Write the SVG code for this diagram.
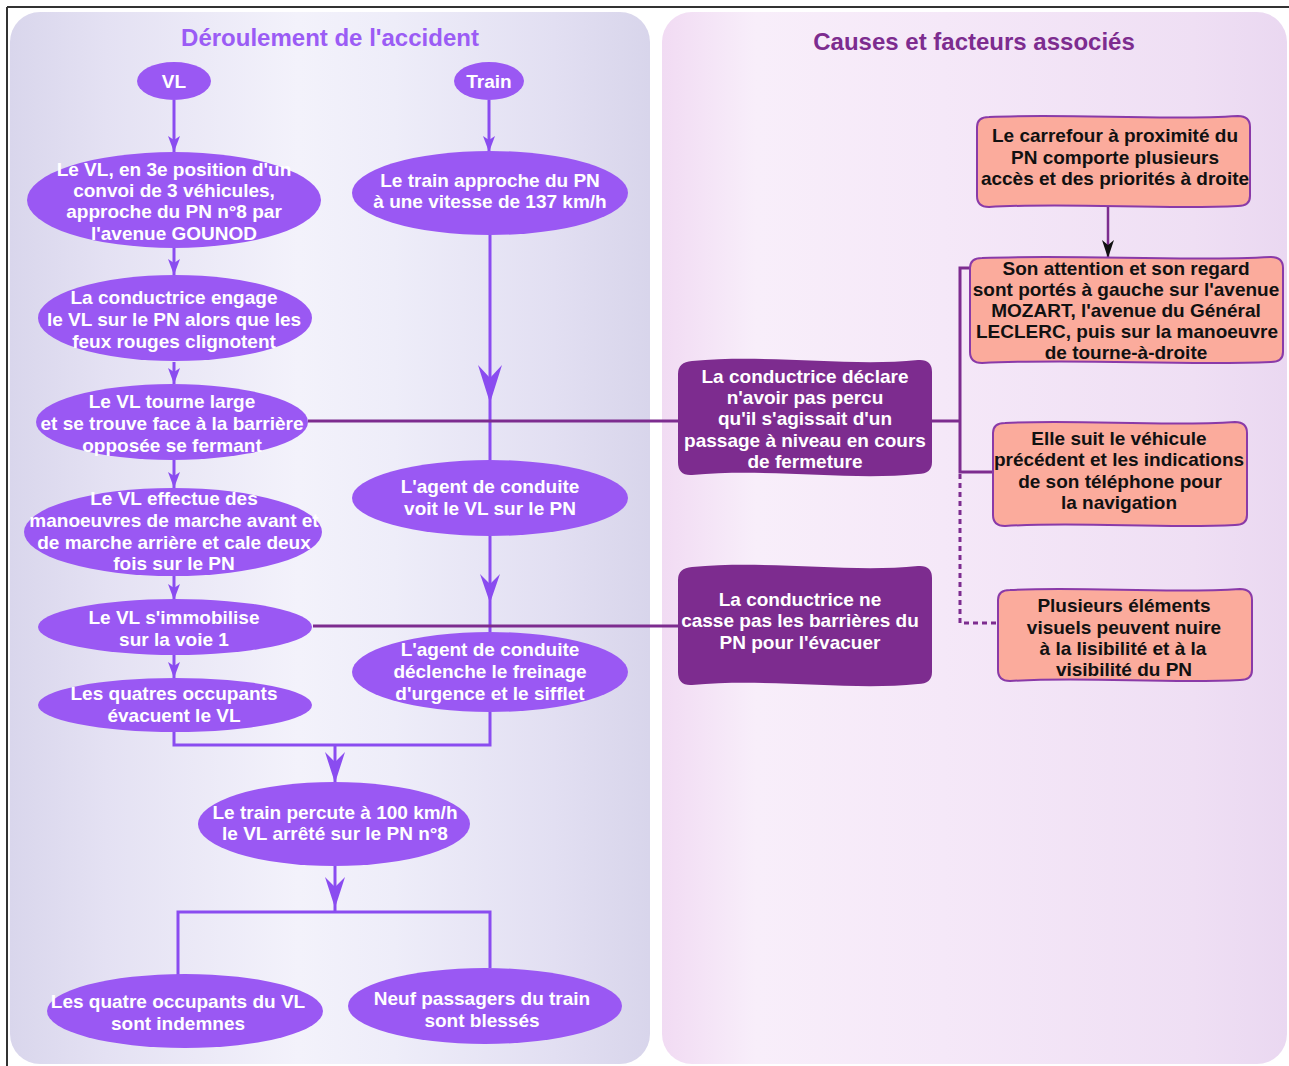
<svg xmlns="http://www.w3.org/2000/svg" width="1289" height="1066" viewBox="0 0 1289 1066">
<defs>
<linearGradient id="gl" x1="0" y1="0" x2="1" y2="0">
<stop offset="0" stop-color="#d9d6ec"/>
<stop offset="0.15" stop-color="#e4e1f3"/>
<stop offset="0.45" stop-color="#f3f2fb"/>
<stop offset="0.6" stop-color="#eeedf9"/>
<stop offset="0.85" stop-color="#e2dff2"/>
<stop offset="1" stop-color="#d8d5eb"/>
</linearGradient>
<linearGradient id="gr" x1="0" y1="0" x2="1" y2="0">
<stop offset="0" stop-color="#f1dbf3"/>
<stop offset="0.15" stop-color="#f8eefa"/>
<stop offset="0.45" stop-color="#f5e8f8"/>
<stop offset="0.85" stop-color="#efdff4"/>
<stop offset="1" stop-color="#ead8f1"/>
</linearGradient>
<marker id="ah" markerUnits="userSpaceOnUse" markerWidth="16" markerHeight="12" refX="16" refY="6" orient="auto">
<path d="M0,0 L16,6 L0,12 L4,6 Z" fill="#8a4cf0"/>
</marker>
<marker id="ahk" markerUnits="userSpaceOnUse" markerWidth="18" markerHeight="12" refX="18" refY="6" orient="auto">
<path d="M0,0 L18,6 L0,12 L5,6 Z" fill="#111"/>
</marker>
<style>
.pn{fill:url(#gl)}
.el{fill:#9a58f3}
.t{font-family:"Liberation Sans",Arial,sans-serif;font-weight:bold;font-size:19px;text-anchor:middle}
.w{fill:#ffffff}
.k{fill:#111111}
.ttl{font-family:"Liberation Sans",Arial,sans-serif;font-weight:bold;font-size:24px;text-anchor:middle}
.dk{fill:#7d2c8f}
.sa{fill:#fbab9c;stroke:#8a3aa8;stroke-width:2}
.cl{stroke:#8a4cf0;stroke-width:3;fill:none}
.cd{stroke:#7d2c8f;stroke-width:3;fill:none}
.ds{stroke:#7d2c8f;stroke-width:3;fill:none;stroke-dasharray:5,4}
.ar{fill:#8a4cf0}
</style>
</defs>

<rect x="0" y="0" width="1289" height="1066" fill="#ffffff"/>
<g id="frame">
<line x1="7" y1="7" x2="1289" y2="7" stroke="#333" stroke-width="2"/>
<line x1="7" y1="7" x2="7" y2="1066" stroke="#333" stroke-width="2"/>
</g>

<g id="panel-left">
<rect x="10" y="12" width="640" height="1052" rx="30" ry="30" fill="url(#gl)"/>
<text class="ttl" x="330" y="46" fill="#9b5cf5">Déroulement de l'accident</text>
</g>
<g id="panel-right">
<rect x="662" y="12" width="625" height="1052" rx="30" ry="30" fill="url(#gr)"/>
<text class="ttl" x="974" y="50" fill="#7d2c8f">Causes et facteurs associés</text>
</g>

<g id="connectors">
<line class="cl" x1="174" y1="100" x2="174" y2="152" marker-end="url(#ah)"/>
<line class="cl" x1="174" y1="248" x2="174" y2="275" marker-end="url(#ah)"/>
<line class="cl" x1="174" y1="362" x2="174" y2="384" marker-end="url(#ah)"/>
<line class="cl" x1="174" y1="460" x2="174" y2="488" marker-end="url(#ah)"/>
<line class="cl" x1="174" y1="576" x2="174" y2="600" marker-end="url(#ah)"/>
<line class="cl" x1="174" y1="655" x2="174" y2="678" marker-end="url(#ah)"/>
<line class="cl" x1="489" y1="100" x2="489" y2="152" marker-end="url(#ah)"/>
<line class="cl" x1="490" y1="235" x2="490" y2="460"/>
<path class="ar" d="M478,365 L490,403 L502,365 L490,378 Z"/>
<line class="cl" x1="490" y1="536" x2="490" y2="632"/>
<path class="ar" d="M480,574 L490,603 L500,574 L490,584 Z"/>
<polyline class="cl" points="174,732 174,745 490,745 490,712"/>
<line class="cl" x1="335" y1="745" x2="335" y2="783"/>
<path class="ar" d="M325,752 L335,783 L345,752 L335,762 Z"/>
<line class="cl" x1="335" y1="866" x2="335" y2="912"/>
<path class="ar" d="M325,877 L335,908 L345,877 L335,887 Z"/>
<polyline class="cl" points="178,975 178,912 490,912 490,968"/>
<line class="cd" x1="308" y1="421" x2="678" y2="421"/>
<line class="cd" x1="313" y1="626" x2="678" y2="626"/>
<line class="cd" x1="932" y1="421" x2="960" y2="421"/>
<polyline class="cd" points="970,268 960,268 960,472 993,472"/>
<polyline class="ds" points="960,474 960,623 998,623"/>
<line x1="1108" y1="206" x2="1108" y2="258" stroke="#7d2c8f" stroke-width="2.5" marker-end="url(#ahk)"/>
</g>

<g id="n-vl"><ellipse class="el" cx="174" cy="81" rx="37" ry="19"/><text class="t w" x="174" y="88" font-size="20">VL</text></g>
<g id="n-train"><ellipse class="el" cx="489" cy="81" rx="35" ry="19"/><text class="t w" x="489" y="88" font-size="20">Train</text></g>

<g id="n-vl1"><ellipse class="el" cx="174" cy="200" rx="147" ry="48"/>
<text class="t w" x="174"><tspan x="174" y="176">Le VL, en 3e position d'un</tspan><tspan x="174" y="197">convoi de 3 véhicules,</tspan><tspan x="174" y="218">approche du PN n°8 par</tspan><tspan x="174" y="240">l'avenue GOUNOD</tspan></text></g>

<g id="n-vl2"><ellipse class="el" cx="175" cy="318" rx="137" ry="43"/>
<text class="t w"><tspan x="174" y="304">La conductrice engage</tspan><tspan x="174" y="326">le VL sur le PN alors que les</tspan><tspan x="174" y="348">feux rouges clignotent</tspan></text></g>

<g id="n-vl3"><ellipse class="el" cx="172" cy="422" rx="136" ry="38"/>
<text class="t w"><tspan x="172" y="408">Le VL tourne large</tspan><tspan x="172" y="430">et se trouve face à la barrière</tspan><tspan x="172" y="452">opposée se fermant</tspan></text></g>

<g id="n-vl4"><ellipse class="el" cx="173" cy="532" rx="149" ry="44"/>
<text class="t w"><tspan x="174" y="505">Le VL effectue des</tspan><tspan x="174" y="527">manoeuvres de marche avant et</tspan><tspan x="174" y="549">de marche arrière et cale deux</tspan><tspan x="174" y="570">fois sur le PN</tspan></text></g>

<g id="n-vl5"><ellipse class="el" cx="175" cy="627" rx="137" ry="28"/>
<text class="t w"><tspan x="174" y="624">Le VL s'immobilise</tspan><tspan x="174" y="646">sur la voie 1</tspan></text></g>

<g id="n-vl6"><ellipse class="el" cx="175" cy="705" rx="137" ry="27"/>
<text class="t w"><tspan x="174" y="700">Les quatres occupants</tspan><tspan x="174" y="722">évacuent le VL</tspan></text></g>

<g id="n-tr1"><ellipse class="el" cx="490" cy="193" rx="138" ry="42"/>
<text class="t w"><tspan x="490" y="187">Le train approche du PN</tspan><tspan x="490" y="208">à une vitesse de 137 km/h</tspan></text></g>

<g id="n-tr2"><ellipse class="el" cx="490" cy="498" rx="138" ry="38"/>
<text class="t w"><tspan x="490" y="493">L'agent de conduite</tspan><tspan x="490" y="515">voit le VL sur le PN</tspan></text></g>

<g id="n-tr3"><ellipse class="el" cx="490" cy="672" rx="138" ry="40"/>
<text class="t w"><tspan x="490" y="656">L'agent de conduite</tspan><tspan x="490" y="678">déclenche le freinage</tspan><tspan x="490" y="700">d'urgence et le sifflet</tspan></text></g>

<g id="n-choc"><ellipse class="el" cx="334" cy="824" rx="136" ry="42"/>
<text class="t w"><tspan x="335" y="819">Le train percute à 100 km/h</tspan><tspan x="335" y="840">le VL arrêté sur le PN n°8</tspan></text></g>

<g id="n-vlres"><ellipse class="el" cx="185" cy="1011" rx="138" ry="37"/>
<text class="t w"><tspan x="178" y="1008">Les quatre occupants du VL</tspan><tspan x="178" y="1030">sont indemnes</tspan></text></g>

<g id="n-trres"><ellipse class="el" cx="485" cy="1006" rx="137" ry="38"/>
<text class="t w"><tspan x="482" y="1005">Neuf passagers du train</tspan><tspan x="482" y="1027">sont blessés</tspan></text></g>

<g id="c-declare"><path class="dk" d="M678,374 Q678,362 692,361 C770,354 850,367 918,360 Q932,359 932,372 L932,462 Q932,474 918,474 C850,481 770,468 692,475 Q678,476 678,462 Z"/>
<text class="t w"><tspan x="805" y="383">La conductrice déclare</tspan><tspan x="805" y="404">n'avoir pas percu</tspan><tspan x="805" y="425">qu'il s'agissait d'un</tspan><tspan x="805" y="447">passage à niveau en cours</tspan><tspan x="805" y="468">de fermeture</tspan></text></g>

<g id="c-barrieres"><path class="dk" d="M678,580 Q678,568 692,567 C770,560 850,573 918,566 Q932,565 932,578 L932,672 Q932,684 918,684 C850,691 770,678 692,685 Q678,686 678,672 Z"/>
<text class="t w"><tspan x="800" y="606">La conductrice ne</tspan><tspan x="800" y="627">casse pas les barrières du</tspan><tspan x="800" y="649">PN pour l'évacuer</tspan></text></g>

<g id="f-carrefour"><path class="sa" d="M977,127 Q977,117 989,117 C1070,113 1160,121 1238,116 Q1250,116 1250,127 L1250,196 Q1250,206 1238,206 C1160,210 1070,202 989,207 Q977,207 977,196 Z"/>
<text class="t k"><tspan x="1115" y="142">Le carrefour à proximité du</tspan><tspan x="1115" y="164">PN comporte plusieurs</tspan><tspan x="1115" y="185">accès et des priorités à droite</tspan></text></g>

<g id="f-attention"><path class="sa" d="M970,268 Q970,258 982,258 C1080,254 1180,262 1271,257 Q1283,257 1283,268 L1283,352 Q1283,362 1271,362 C1180,366 1080,358 982,363 Q970,363 970,352 Z"/>
<text class="t k"><tspan x="1126" y="275">Son attention et son regard</tspan><tspan x="1126" y="296">sont portés à gauche sur l'avenue</tspan><tspan x="1126" y="317">MOZART, l'avenue du Général</tspan><tspan x="1127" y="338">LECLERC, puis sur la manoeuvre</tspan><tspan x="1126" y="359">de tourne-à-droite</tspan></text></g>

<g id="f-suit"><path class="sa" d="M993,433 Q993,423 1005,423 C1080,419 1160,427 1235,422 Q1247,422 1247,433 L1247,515 Q1247,525 1235,525 C1160,529 1080,521 1005,526 Q993,526 993,515 Z"/>
<text class="t k"><tspan x="1119" y="445">Elle suit le véhicule</tspan><tspan x="1119" y="466">précédent et les indications</tspan><tspan x="1120" y="488">de son téléphone pour</tspan><tspan x="1119" y="509">la navigation</tspan></text></g>

<g id="f-visuels"><path class="sa" d="M998,600 Q998,590 1010,590 C1085,586 1165,594 1240,589 Q1252,589 1252,600 L1252,670 Q1252,680 1240,680 C1165,684 1085,676 1010,681 Q998,681 998,670 Z"/>
<text class="t k"><tspan x="1124" y="612">Plusieurs éléments</tspan><tspan x="1124" y="634">visuels peuvent nuire</tspan><tspan x="1123" y="655">à la lisibilité et à la</tspan><tspan x="1124" y="676">visibilité du PN</tspan></text></g>
</svg>
